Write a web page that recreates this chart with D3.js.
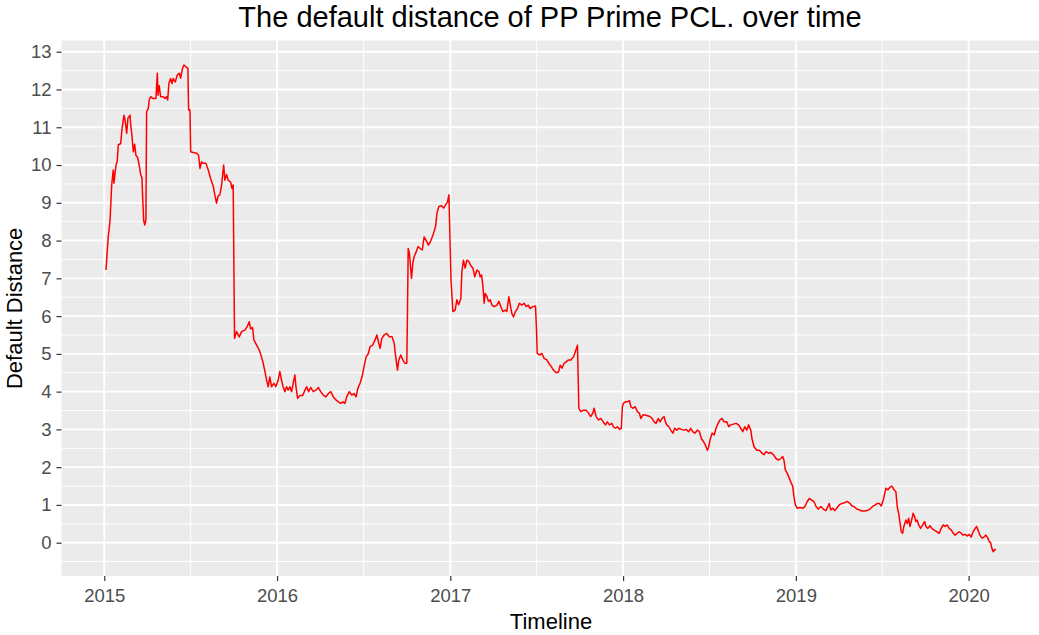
<!DOCTYPE html>
<html>
<head>
<meta charset="utf-8">
<script src="https://cdn.jsdelivr.net/npm/d3@7"></script>
<style>
  html, body { margin: 0; padding: 0; background: #ffffff; }
  svg { display: block; font-family: "Liberation Sans", Arial, sans-serif; }
</style>
</head>
<body>
<svg id="chart" width="1039" height="635"></svg>
<script>
// ---- data (decimal year, default distance) ----
const chartTitle = "The default distance of PP Prime PCL. over time";
const xTitle = "Timeline";
const yTitle = "Default Distance";
const xTickYears = [2015, 2016, 2017, 2018, 2019, 2020];
const yTickValues = [0,1,2,3,4,5,6,7,8,9,10,11,12,13];

const timeline = [
2015.010,2015.017,2015.023,2015.033,2015.043,2015.052,2015.056,2015.068,2015.075,2015.081,2015.095,2015.102,2015.114,2015.120,2015.130,2015.137,2015.149,2015.153,2015.160,2015.168,2015.176,2015.183,2015.193,2015.202,2015.211,2015.218,2015.222,2015.228,2015.234,2015.241,2015.245,2015.255,2015.260,2015.268,2015.283,2015.299,2015.307,2015.311,2015.318,2015.326,2015.341,2015.351,2015.361,2015.367,2015.374,2015.384,2015.392,2015.399,2015.411,2015.422,2015.434,2015.442,2015.453,2015.461,2015.473,2015.484,2015.488,2015.496,2015.500,2015.515,2015.534,2015.546,2015.554,2015.563,2015.573,2015.588,2015.602,2015.615,2015.631,2015.640,2015.650,2015.659,2015.669,2015.679,2015.691,2015.698,2015.708,2015.717,2015.731,2015.739,2015.746,2015.750,2015.754,2015.766,2015.781,2015.795,2015.814,2015.827,2015.839,2015.847,2015.858,2015.866,2015.882,2015.897,2015.910,2015.920,2015.930,2015.939,2015.949,2015.958,2015.968,2015.982,2015.993,
2016.006,2016.016,2016.026,2016.035,2016.045,2016.055,2016.064,2016.074,2016.084,2016.093,2016.103,2016.109,2016.119,2016.132,2016.148,2016.161,2016.171,2016.182,2016.194,2016.209,2016.225,2016.238,2016.252,2016.267,2016.282,2016.296,2016.310,2016.325,2016.340,2016.354,2016.367,2016.382,2016.392,2016.402,2016.417,2016.431,2016.444,2016.456,2016.466,2016.479,2016.491,2016.502,2016.514,2016.527,2016.537,2016.552,2016.566,2016.576,2016.585,2016.595,2016.605,2016.618,2016.633,2016.648,2016.664,2016.676,2016.685,2016.695,2016.703,2016.714,2016.726,2016.738,2016.749,2016.753,2016.757,2016.764,2016.776,2016.784,2016.791,2016.803,2016.814,2016.826,2016.838,2016.849,2016.861,2016.874,2016.888,2016.903,2016.915,2016.923,2016.934,2016.949,2016.961,2016.972,2016.984,2016.992,2016.996,
2017.004,2017.015,2017.028,2017.038,2017.048,2017.061,2017.067,2017.076,2017.086,2017.096,2017.108,2017.119,2017.131,2017.142,2017.154,2017.166,2017.173,2017.181,2017.189,2017.196,2017.202,2017.212,2017.221,2017.231,2017.241,2017.254,2017.270,2017.281,2017.293,2017.304,2017.318,2017.327,2017.339,2017.347,2017.356,2017.366,2017.377,2017.389,2017.400,2017.414,2017.428,2017.439,2017.451,2017.462,2017.478,2017.493,2017.499,2017.503,2017.516,2017.530,2017.543,2017.559,2017.570,2017.582,2017.597,2017.613,2017.626,2017.636,2017.646,2017.659,2017.670,2017.684,2017.698,2017.713,2017.724,2017.736,2017.740,2017.744,2017.755,2017.771,2017.786,2017.800,2017.813,2017.825,2017.832,2017.844,2017.857,2017.871,2017.886,2017.898,2017.909,2017.921,2017.935,2017.944,2017.956,2017.967,2017.979,2017.990,2017.996,
2018.002,2018.013,2018.025,2018.037,2018.045,2018.056,2018.070,2018.083,2018.094,2018.103,2018.114,2018.127,2018.141,2018.156,2018.168,2018.180,2018.191,2018.203,2018.214,2018.226,2018.237,2018.245,2018.253,2018.265,2018.276,2018.288,2018.299,2018.311,2018.322,2018.337,2018.353,2018.365,2018.380,2018.392,2018.403,2018.415,2018.430,2018.442,2018.453,2018.465,2018.476,2018.488,2018.496,2018.503,2018.515,2018.527,2018.538,2018.550,2018.561,2018.573,2018.584,2018.600,2018.612,2018.623,2018.638,2018.654,2018.669,2018.681,2018.693,2018.704,2018.716,2018.727,2018.739,2018.746,2018.758,2018.774,2018.789,2018.804,2018.816,2018.827,2018.841,2018.854,2018.870,2018.885,2018.901,2018.912,2018.924,2018.931,2018.939,2018.950,2018.962,2018.974,2018.982,2018.989,2018.997,
2019.008,2019.024,2019.040,2019.053,2019.066,2019.078,2019.092,2019.105,2019.117,2019.130,2019.144,2019.159,2019.174,2019.186,2019.193,2019.202,2019.213,2019.225,2019.236,2019.251,2019.267,2019.282,2019.298,2019.313,2019.325,2019.336,2019.352,2019.367,2019.383,2019.398,2019.413,2019.429,2019.444,2019.460,2019.471,2019.483,2019.494,2019.506,2019.514,2019.521,2019.533,2019.545,2019.556,2019.568,2019.579,2019.587,2019.595,2019.602,2019.610,2019.618,2019.625,2019.637,2019.645,2019.653,2019.660,2019.668,2019.679,2019.687,2019.695,2019.702,2019.711,2019.722,2019.734,2019.745,2019.753,2019.764,2019.776,2019.787,2019.799,2019.815,2019.830,2019.841,2019.853,2019.864,2019.876,2019.887,2019.899,2019.911,2019.922,2019.934,2019.945,2019.957,2019.968,2019.980,2019.992,
2020.003,2020.015,2020.026,2020.038,2020.046,2020.054,2020.065,2020.077,2020.088,2020.100,2020.111,2020.119,2020.127,2020.134,2020.142,2020.150,2020.158
];

const defaultDistance = [
7.22,7.70,8.10,8.50,9.47,9.87,9.52,10.00,10.10,10.53,10.57,10.93,11.32,11.20,10.84,11.24,11.32,11.06,10.79,10.35,10.55,10.26,10.20,10.00,9.74,9.66,9.16,8.54,8.41,8.54,11.41,11.50,11.72,11.81,11.76,11.76,12.43,11.85,12.10,11.81,11.81,11.76,11.81,11.72,12.16,12.29,12.16,12.29,12.20,12.38,12.43,12.30,12.56,12.65,12.60,12.56,11.46,11.46,10.35,10.33,10.31,10.26,9.91,10.08,10.05,10.05,9.87,9.65,9.43,9.21,8.99,9.18,9.21,9.47,10.00,9.60,9.75,9.60,9.55,9.38,9.47,7.44,5.41,5.59,5.45,5.59,5.63,5.72,5.85,5.66,5.70,5.37,5.23,5.10,4.92,4.75,4.53,4.31,4.13,4.39,4.13,4.22,4.13,
4.30,4.53,4.30,4.13,4.00,4.13,4.04,4.13,4.00,4.22,4.44,4.13,3.82,3.90,3.90,4.04,4.13,4.00,4.11,4.00,4.04,4.11,4.00,3.91,3.86,3.95,4.00,3.86,3.78,3.73,3.69,3.73,3.69,3.86,4.00,3.91,3.95,3.86,4.08,4.22,4.40,4.66,4.92,5.01,5.19,5.23,5.37,5.50,5.32,5.15,5.41,5.50,5.54,5.45,5.45,5.28,4.92,4.57,4.84,4.97,4.84,4.75,4.75,6.16,7.79,7.66,7.00,7.40,7.57,7.70,7.84,7.79,7.75,8.10,8.00,7.88,8.00,8.19,8.37,8.72,8.90,8.92,8.86,8.94,9.03,9.21,8.46,
6.96,6.12,6.16,6.43,6.30,6.46,7.18,7.48,7.27,7.48,7.44,7.33,7.27,7.04,7.22,7.18,7.04,7.09,6.78,6.34,6.60,6.52,6.39,6.43,6.29,6.25,6.29,6.39,6.25,6.12,6.16,6.12,6.51,6.29,6.07,5.98,6.12,6.20,6.34,6.29,6.34,6.25,6.29,6.20,6.25,6.27,5.63,5.01,4.97,5.01,4.88,4.84,4.75,4.68,4.57,4.50,4.52,4.70,4.62,4.75,4.79,4.84,4.84,4.92,5.06,5.23,4.39,3.56,3.47,3.51,3.51,3.43,3.34,3.43,3.56,3.34,3.25,3.29,3.20,3.12,3.20,3.12,3.16,3.07,3.03,3.07,3.00,3.03,3.60,
3.69,3.73,3.73,3.76,3.60,3.56,3.60,3.47,3.43,3.29,3.38,3.38,3.36,3.34,3.29,3.20,3.16,3.29,3.20,3.29,3.34,3.20,3.12,3.07,2.98,2.90,3.03,2.98,3.03,3.00,2.98,3.00,2.94,3.03,2.94,2.90,2.98,2.94,2.76,2.68,2.59,2.45,2.54,2.72,2.90,2.85,3.03,3.16,3.25,3.29,3.20,3.20,3.07,3.12,3.14,3.16,3.12,3.03,2.94,3.07,2.98,3.12,2.98,2.76,2.54,2.45,2.45,2.37,2.33,2.41,2.37,2.39,2.33,2.23,2.19,2.23,2.28,2.19,1.93,1.84,1.71,1.57,1.49,1.22,1.00,
0.91,0.93,0.91,0.96,1.09,1.17,1.13,1.09,0.96,0.89,0.96,0.89,0.85,0.96,1.04,0.87,0.91,0.85,0.91,1.00,1.04,1.06,1.09,1.04,0.97,0.96,0.89,0.87,0.84,0.84,0.85,0.89,0.96,1.00,1.04,1.04,0.97,1.13,1.30,1.44,1.40,1.47,1.50,1.40,1.35,0.95,0.78,0.56,0.29,0.25,0.43,0.60,0.51,0.65,0.43,0.56,0.78,0.69,0.56,0.60,0.47,0.38,0.47,0.56,0.43,0.38,0.45,0.38,0.34,0.29,0.25,0.38,0.47,0.43,0.47,0.38,0.34,0.25,0.20,0.25,0.29,0.25,0.20,0.22,0.18,
0.22,0.15,0.29,0.38,0.43,0.34,0.20,0.12,0.15,0.20,0.12,0.03,0.00,-0.15,-0.24,-0.18,-0.19
];

// ---- helpers ----
function decYearToDate(t) {
  const y = Math.floor(t);
  const s = Date.UTC(y, 0, 1), e = Date.UTC(y + 1, 0, 1);
  return new Date(s + (t - y) * (e - s));
}
const data = timeline.map((t, i) => ({ date: decYearToDate(t), value: defaultDistance[i] }));

// ---- layout ----
const W = 1039, H = 635;
const panel = { left: 61.5, right: 1040.5, top: 40.6, bottom: 576.1 };

const svg = d3.select("#chart");
svg.append("rect").attr("width", W).attr("height", H).attr("fill", "#ffffff");

// ggplot-like 5% expansion
const xExt = d3.extent(data, d => d.date.getTime());
const xPad = (xExt[1] - xExt[0]) * 0.05;
const x = d3.scaleUtc()
  .domain([new Date(xExt[0] - xPad), new Date(xExt[1] + xPad)])
  .range([panel.left, panel.right]);

const yExt = d3.extent(data, d => d.value);
const yPad = (yExt[1] - yExt[0]) * 0.05;
const y = d3.scaleLinear()
  .domain([yExt[0] - yPad, yExt[1] + yPad])
  .range([panel.bottom, panel.top]);

// panel background
svg.append("rect")
  .attr("x", panel.left).attr("y", panel.top)
  .attr("width", panel.right - panel.left).attr("height", panel.bottom - panel.top)
  .attr("fill", "#EBEBEB");

const majorX = xTickYears.map(yr => new Date(Date.UTC(yr, 0, 1)));
const minorX = [];
for (let i = 0; i < majorX.length - 1; i++) {
  minorX.push(new Date((majorX[i].getTime() + majorX[i + 1].getTime()) / 2));
}
const minorY = [];
for (let i = 0; i < yTickValues.length; i++) minorY.push(yTickValues[i] - 0.5);

const grid = svg.append("g");
// minor grid
grid.selectAll(".mgy").data(minorY.filter(v => y(v) <= panel.bottom && y(v) >= panel.top)).join("line")
  .attr("x1", panel.left).attr("x2", panel.right)
  .attr("y1", d => y(d)).attr("y2", d => y(d))
  .attr("stroke", "#ffffff").attr("stroke-width", 1.0);
grid.selectAll(".mgx").data(minorX).join("line")
  .attr("y1", panel.top).attr("y2", panel.bottom)
  .attr("x1", d => x(d)).attr("x2", d => x(d))
  .attr("stroke", "#ffffff").attr("stroke-width", 1.0);
// major grid
grid.selectAll(".Mgy").data(yTickValues).join("line")
  .attr("x1", panel.left).attr("x2", panel.right)
  .attr("y1", d => y(d)).attr("y2", d => y(d))
  .attr("stroke", "#ffffff").attr("stroke-width", 1.9);
grid.selectAll(".Mgx").data(majorX).join("line")
  .attr("y1", panel.top).attr("y2", panel.bottom)
  .attr("x1", d => x(d)).attr("x2", d => x(d))
  .attr("stroke", "#ffffff").attr("stroke-width", 1.9);

// line
const line = d3.line().x(d => x(d.date)).y(d => y(d.value));
svg.append("path")
  .datum(data)
  .attr("d", line)
  .attr("fill", "none")
  .attr("stroke", "#FF0000")
  .attr("stroke-width", 1.5)
  .attr("stroke-linejoin", "round");

// axes
const xAxis = d3.axisBottom(x).tickValues(majorX).tickFormat(d3.utcFormat("%Y"))
  .tickSize(5).tickPadding(8);
const gx = svg.append("g").attr("transform", `translate(0,${panel.bottom})`).call(xAxis);
gx.select(".domain").remove();
gx.selectAll(".tick line").attr("stroke", "#333333").attr("stroke-width", 1.2);
gx.selectAll(".tick text").attr("fill", "#4D4D4D").attr("font-size", 18.5)
  .attr("font-family", "Liberation Sans, Arial, sans-serif");

const yAxis = d3.axisLeft(y).tickValues(yTickValues).tickFormat(d3.format("d"))
  .tickSize(5).tickPadding(5);
const gy = svg.append("g").attr("transform", `translate(${panel.left},0)`).call(yAxis);
gy.select(".domain").remove();
gy.selectAll(".tick line").attr("stroke", "#333333").attr("stroke-width", 1.2);
gy.selectAll(".tick text").attr("fill", "#4D4D4D").attr("font-size", 18.5)
  .attr("font-family", "Liberation Sans, Arial, sans-serif");

// titles
svg.append("text")
  .attr("x", (panel.left + panel.right) / 2 - 1).attr("y", 27)
  .attr("text-anchor", "middle")
  .attr("font-size", 29).attr("fill", "#000000")
  .text(chartTitle);

svg.append("text")
  .attr("x", (panel.left + panel.right) / 2).attr("y", 629)
  .attr("text-anchor", "middle")
  .attr("font-size", 22).attr("fill", "#000000")
  .text(xTitle);

svg.append("text")
  .attr("transform", `translate(22,${(panel.top + panel.bottom) / 2}) rotate(-90)`)
  .attr("text-anchor", "middle")
  .attr("font-size", 22).attr("fill", "#000000")
  .text(yTitle);
</script>
</body>
</html>
